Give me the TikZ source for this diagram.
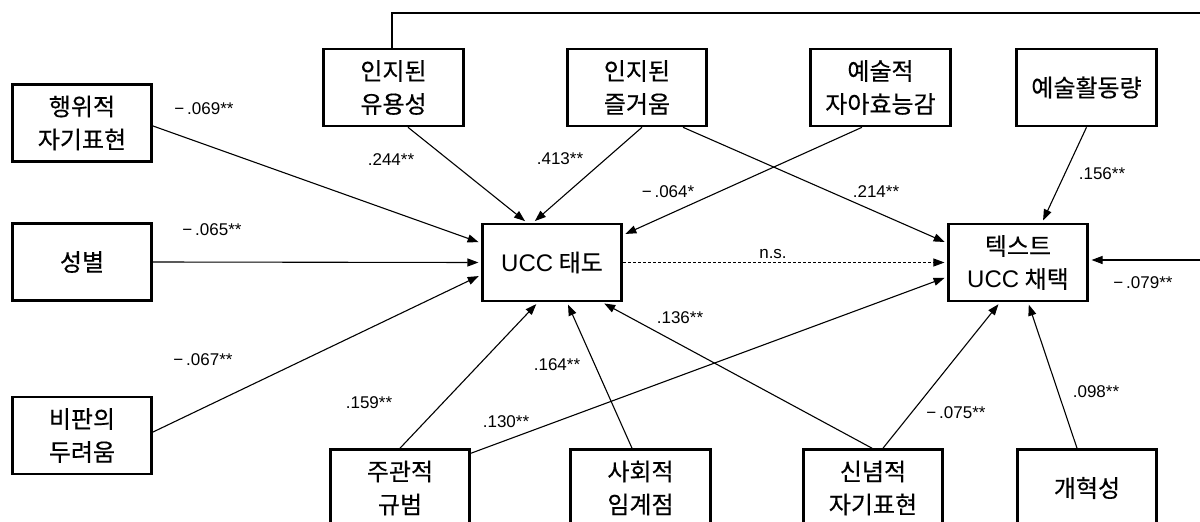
\documentclass[tikz,border=0pt]{standalone}
\usepackage{fontspec}
\setmainfont{Liberation Sans}
\newfontfamily\kr[FakeBold=0.4]{Noto Sans CJK KR}
\newfontfamily\lat{Liberation Sans}
\usetikzlibrary{arrows.meta,calc}
\begin{document}
\begin{tikzpicture}[x=1pt,y=-1pt,
  box/.style={draw, line width=2.6pt, minimum width=139.5pt, minimum height=77pt, inner sep=0pt, align=center, font=\kr\fontsize{24}{33}\selectfont},
  conn/.style={line width=1.1pt, -{Triangle[length=11pt,width=8pt]}, shorten >=2.5pt},
  lab/.style={font=\fontsize{17}{17}\selectfont, inner sep=0pt}]
\useasboundingbox (0,0) rectangle (1200,522);
\clip (0,0) rectangle (1200,522);
% boxes
\node[box] (b1) at (82,123) {행위적\\자기표현};
\node[box] (b2) at (82,262) {성별};
\node[box] (b3) at (82,435.5) {비판의\\두려움};
\node[box] (t1) at (393.5,87.5) {인지된\\유용성};
\node[box] (t2) at (637,87.5) {인지된\\즐거움};
\node[box] (t3) at (880.5,87.5) {예술적\\자아효능감};
\node[box] (t4) at (1086.5,87.5) {예술활동량};
\node[box] (att) at (552,262.5) {{\lat UCC} 태도};
\node[box] (adopt) at (1018,262.5) {텍스트\\{\lat UCC} 채택};
\node[box] (s1) at (400,488) {주관적\\규범};
\node[box] (s2) at (640.5,488) {사회적\\임계점};
\node[box] (s3) at (873,488) {신념적\\자기표현};
\node[box] (s4) at (1087,488) {개혁성};
% connectors
\draw[conn] ($(b1.east)+(0,3)$) -- ($(att.west)+(0,-19.5)$);
\draw[conn] (b2.east) -- (att.west);
\draw[conn] ($(b3.east)+(0,-3.5)$) -- ($(att.west)+(0,12.5)$);
\draw[conn] ($(t1.south)+(14.5,0)$) -- ($(att.north)+(-25,0)$);
\draw[conn] ($(t2.south)+(5,0)$) -- ($(att.north)+(-19,0)$);
\draw[conn] ($(t2.south)+(46,0)$) -- ($(adopt.west)+(0,-19.5)$);
\draw[conn] ($(t3.south)+(-18.5,0)$) -- ($(att.east)+(0,-27.5)$);
\draw[conn] (t4.south) -- ($(adopt.north)+(24,0)$);
\draw[conn, dash pattern=on 2.5pt off 2.5pt, line width=1pt] (att.east) -- (adopt.west);
\coordinate (fbA) at (1201,13);
\coordinate (fbB) at (1201,260);
\draw[conn] ($(t1.north)+(-1.5,0)$) |- (fbA) -- (fbB) -- (adopt.east |- fbB);
\draw[conn] (s1.north) -- ($(att.south)+(-14,0)$);
\draw[conn] ($(s1.north east)+(0,5)$) -- ($(adopt.west)+(0,14.5)$);
\draw[conn] ($(s2.north)+(-8.5,0)$) -- ($(att.south)+(15,0)$);
\draw[conn] ($(s3.north)+(-1,0)$) -- ($(att.south)+(50,0)$);
\draw[conn] ($(s3.north)+(10,0)$) -- ($(adopt.south)+(-18,0)$);
\draw[conn] ($(s4.north)+(-10,0)$) -- ($(adopt.south)+(10,0)$);
% labels
\node[lab] (l1) at (204,109) {−\,.069**};
\node[lab] (l2) at (212,230) {−\,.065**};
\node[lab] (l3) at (203,360) {−\,.067**};
\node[lab] (l4) at (391,160) {.244**};
\node[lab] (l5) at (560,159) {.413**};
\node[lab] (l6) at (668,192) {−\,.064*};
\node[lab] (l7) at (876,192) {.214**};
\node[lab] (l8) at (1102,174) {.156**};
\node[lab] (l9) at (773,254) {n.s.};
\node[lab] (l10) at (1143,283) {−\,.079**};
\node[lab] (l11) at (369,403) {.159**};
\node[lab] (l12) at (506,422) {.130**};
\node[lab] (l13) at (557,365) {.164**};
\node[lab] (l14) at (680,318) {.136**};
\node[lab] (l15) at (956,413) {−\,.075**};
\node[lab] (l16) at (1096,392) {.098**};
\end{tikzpicture}
\end{document}
